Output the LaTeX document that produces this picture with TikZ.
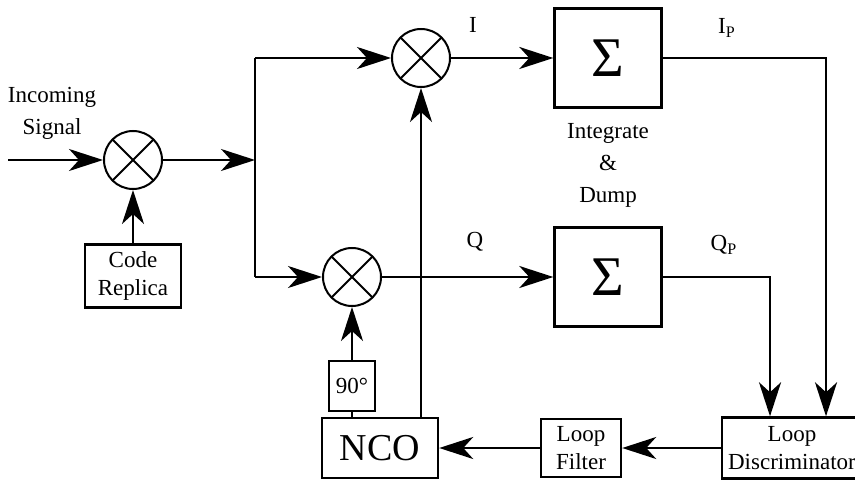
\documentclass[tikz,border=0pt]{standalone}
\usepackage{fontspec}
\setmainfont{Liberation Serif}
\usetikzlibrary{positioning,arrows.meta}
\tikzset{
  blk/.style={rectangle,draw=black,line width=1.2pt,align=center,inner sep=1pt,font=\fontsize{11.5}{14}\selectfont},
  sigbox/.style={blk,minimum width=53.5pt,minimum height=49.5pt,font=\fontsize{28}{30}\selectfont},
  mixer/.style={circle,draw=black,line width=1pt,minimum size=29pt,inner sep=0pt,
    path picture={\draw[line width=1pt] (path picture bounding box.north west) -- (path picture bounding box.south east)
      (path picture bounding box.north east) -- (path picture bounding box.south west);}},
  lbl/.style={align=center,font=\fontsize{11.5}{16}\selectfont},
  wire/.style={line width=1.3pt},
  edge/.style={-{Stealth[length=17pt,width=11pt,inset=5pt]},line width=1.3pt}
}
\begin{document}
\begin{tikzpicture}[x=0.5pt,y=-0.5pt]
  \useasboundingbox (0,0) rectangle (855,480);
  \clip (0,0) rectangle (855,480);
  % mixers
  \node[mixer] (mixC) at (133,160) {};
  \node[mixer] (mixI) at (421,58) {};
  \node[mixer] (mixQ) at (352,277) {};
  % blocks
  \node[blk,minimum width=48pt,minimum height=31.5pt] (code) at (133,276) {Code\\Replica};
  \node[sigbox] (sigI) at (608,58) {Σ};
  \node[sigbox] (sigQ) at (608,277) {Σ};
  \node[blk,minimum width=70pt,minimum height=30.5pt] (disc) at (792,448) {Loop\\Discriminator};
  \node[blk,minimum width=40pt,minimum height=29pt] (filter) at (581,448) {Loop\\Filter};
  \node[blk,minimum width=58pt,minimum height=30pt,font=\fontsize{19}{21}\selectfont] (nco) at (380,448) {NCO};
  \node[blk,minimum width=23pt,minimum height=25pt] (ph90) at (352,386) {90°};
  % labels
  \node[lbl] (inlbl) at (52,113) {Incoming\\Signal};
  \node[lbl] (intlbl) at (608,165) {Integrate\\\&\\Dump};
  \node[lbl] (ilbl) at (473,25) {I};
  \node[lbl] (qlbl) at (475,242) {Q};
  \node[lbl] (iplbl) at (727,28) {I\textsubscript{P}};
  \node[lbl] (qplbl) at (724,245) {Q\textsubscript{P}};
  % split points
  \coordinate (in) at (8,160);
  \coordinate (split) at (255,160);
  \coordinate (itop) at (255,58);
  \coordinate (qbot) at (255,277);
  % connections
  \draw[edge] (in) -- (mixC);
  \draw[edge] (code) -- (mixC);
  \draw[edge] (mixC) -- (split);
  \draw[wire] (itop) -- (qbot);
  \draw[edge] (itop) -- (mixI);
  \draw[edge] (qbot) -- (mixQ);
  \draw[edge] (mixI) -- (sigI);
  \draw[edge] (mixQ) -- (sigQ);
  \draw[edge] (sigI.east) -| ([xshift=17pt]disc.north);
  \draw[edge] (sigQ.east) -| ([xshift=-11pt]disc.north);
  \draw[edge] (disc) -- (filter);
  \draw[edge] (filter) -- (nco);
  \draw[wire] (ph90 |- nco.north) -- (ph90);
  \draw[edge] (ph90) -- (mixQ);
  \draw[edge] (mixI |- nco.north) -- (mixI);
\end{tikzpicture}
\end{document}
